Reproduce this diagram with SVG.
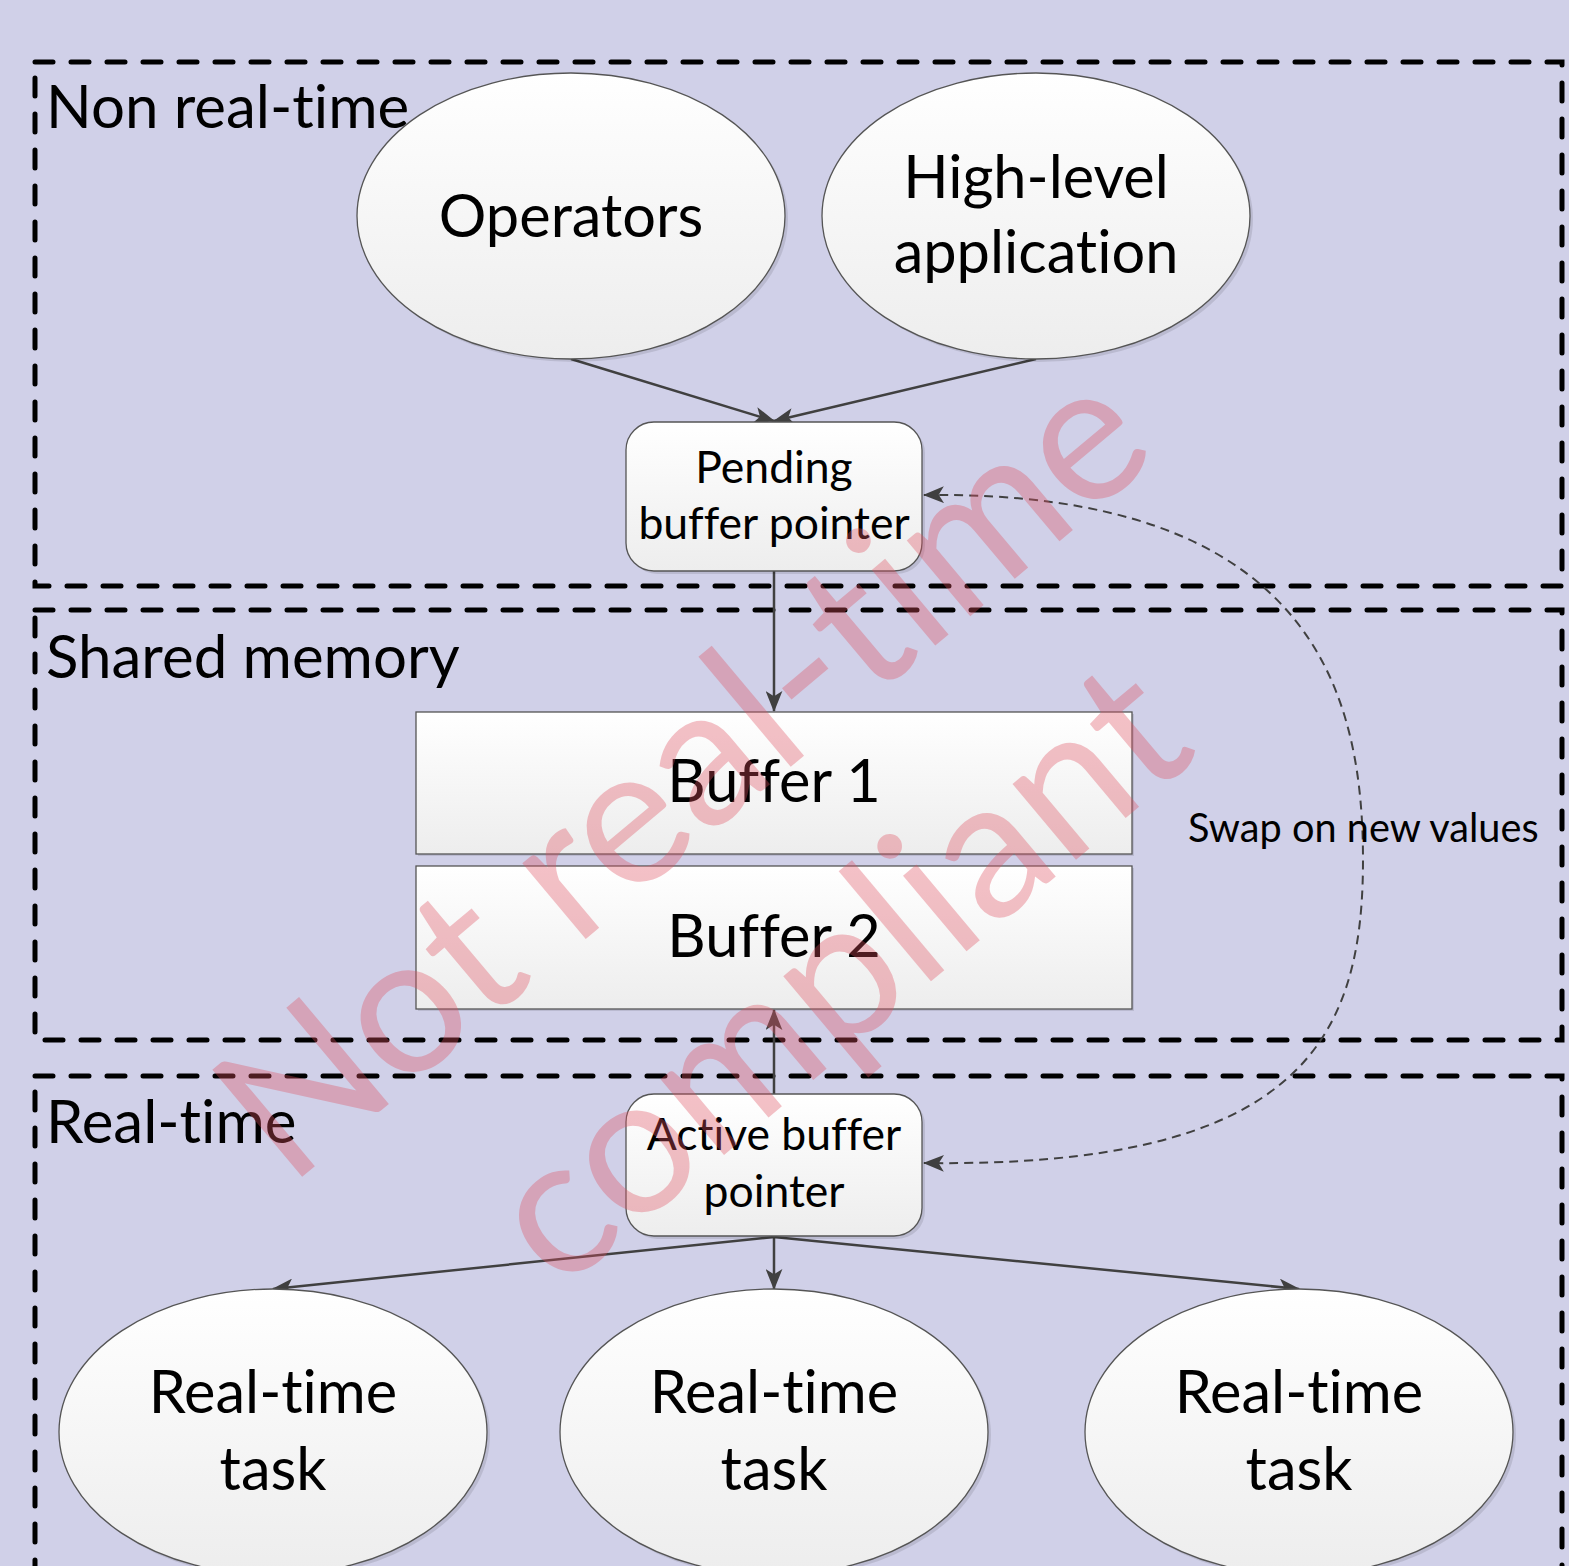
<svg xmlns="http://www.w3.org/2000/svg" width="1569" height="1566" viewBox="0 0 1569 1566">
<defs>
<linearGradient id="nodeFill" x1="0" y1="0" x2="0" y2="1">
<stop offset="0" stop-color="#ffffff"/>
<stop offset="1" stop-color="#ededed"/>
</linearGradient>
<marker id="arr" viewBox="0 0 20 16" refX="19" refY="8" markerWidth="21" markerHeight="17" orient="auto-start-reverse" markerUnits="userSpaceOnUse">
<path d="M0,0 L20,8 L0,16 L5,8 z" fill="#404040"/>
</marker>
<style>
.node { fill: url(#nodeFill); stroke: #555555; stroke-width: 1.3; }
.shadow { fill: #000000; opacity: 0.10; }
.zone { fill: none; stroke: #000000; stroke-width: 5; stroke-dasharray: 18 18; stroke-linecap: round; }
.conn { fill: none; stroke: #404040; stroke-width: 2.5; marker-end: url(#arr); }
.swap { fill: none; stroke: #404040; stroke-width: 2; stroke-dasharray: 9 6; marker-start: url(#arr); marker-end: url(#arr); }
text { font-family: Lato, "Liberation Sans", sans-serif; fill: #000000; font-variant-ligatures: none; font-feature-settings: "liga" 0, "dlig" 0; }
.zt { font-size: 60px; }
.big { font-size: 59.5px; text-anchor: middle; }
.mid { font-size: 44.5px; text-anchor: middle; }
.lbl { font-size: 39.7px; }
.wm { font-size: 195px; fill: #e05060; opacity: 0.35; text-anchor: middle; }
</style>
</defs>
<rect x="0" y="0" width="1569" height="1566" fill="#d0d0e8"/>

<g id="zones">
<rect class="zone" x="35" y="62" width="1527" height="524"/>
<rect class="zone" x="35" y="610" width="1527" height="430"/>
<rect class="zone" x="35" y="1076" width="1527" height="560"/>
<text class="zt" x="46" y="128">Non real-time</text>
<text class="zt" x="46" y="678">Shared memory</text>
<text class="zt" x="46" y="1143">Real-time</text>
</g>

<g id="connectors">
<line class="conn" x1="571" y1="359" x2="774" y2="421"/>
<line class="conn" x1="1036" y1="359" x2="774" y2="421"/>
<line class="conn" x1="774" y1="571" x2="774" y2="711"/>
<line class="conn" x1="774" y1="1094" x2="774" y2="1010"/>
<line class="conn" x1="774" y1="1237" x2="273" y2="1289"/>
<line class="conn" x1="774" y1="1237" x2="774" y2="1289"/>
<line class="conn" x1="774" y1="1237" x2="1299" y2="1289"/>
<path class="swap" d="M 924,495 C 1310,490 1363,690 1363,860 C 1363,1040 1300,1168 924,1163"/>
<text class="lbl" x="1188" y="842">Swap on new values</text>
</g>

<g id="operators">
<ellipse class="shadow" cx="574" cy="219" rx="214" ry="143"/>
<ellipse class="node" cx="571" cy="216" rx="214" ry="143"/>
<text class="big" x="571" y="237">Operators</text>
</g>

<g id="high-level-application">
<ellipse class="shadow" cx="1039" cy="219" rx="214" ry="143"/>
<ellipse class="node" cx="1036" cy="216" rx="214" ry="143"/>
<text class="big" x="1036" y="198">High-level</text>
<text class="big" x="1036" y="273">application</text>
</g>

<g id="pending-buffer-pointer">
<rect class="shadow" x="629" y="425" width="296" height="149" rx="28"/>
<rect class="node" x="626" y="422" width="296" height="149" rx="28"/>
<text class="mid" x="774" y="483">Pending</text>
<text class="mid" x="774" y="539">buffer pointer</text>
</g>

<g id="buffer-1">
<rect class="shadow" x="418" y="714" width="716" height="142"/>
<rect class="node" x="416" y="712" width="716" height="142"/>
<text class="big" x="774" y="802">Buffer 1</text>
</g>

<g id="buffer-2">
<rect class="shadow" x="418" y="868" width="716" height="143"/>
<rect class="node" x="416" y="866" width="716" height="143"/>
<text class="big" x="774" y="957">Buffer 2</text>
</g>

<g id="active-buffer-pointer">
<rect class="shadow" x="629" y="1097" width="296" height="142" rx="28"/>
<rect class="node" x="626" y="1094" width="296" height="142" rx="28"/>
<text class="mid" x="774" y="1150">Active buffer</text>
<text class="mid" x="774" y="1207">pointer</text>
</g>

<g id="rt-task-1">
<ellipse class="shadow" cx="276" cy="1435" rx="214" ry="143"/>
<ellipse class="node" cx="273" cy="1432" rx="214" ry="143"/>
<text class="big" x="273" y="1413">Real-time</text>
<text class="big" x="273" y="1490">task</text>
</g>

<g id="rt-task-2">
<ellipse class="shadow" cx="777" cy="1435" rx="214" ry="143"/>
<ellipse class="node" cx="774" cy="1432" rx="214" ry="143"/>
<text class="big" x="774" y="1413">Real-time</text>
<text class="big" x="774" y="1490">task</text>
</g>

<g id="rt-task-3">
<ellipse class="shadow" cx="1302" cy="1435" rx="214" ry="143"/>
<ellipse class="node" cx="1299" cy="1432" rx="214" ry="143"/>
<text class="big" x="1299" y="1413">Real-time</text>
<text class="big" x="1299" y="1490">task</text>
</g>

<g id="watermark">
<text class="wm" transform="translate(725,822) rotate(-40)">Not real-time</text>
<text class="wm" transform="translate(880,1024) rotate(-40)">compliant</text>
</g>
</svg>
